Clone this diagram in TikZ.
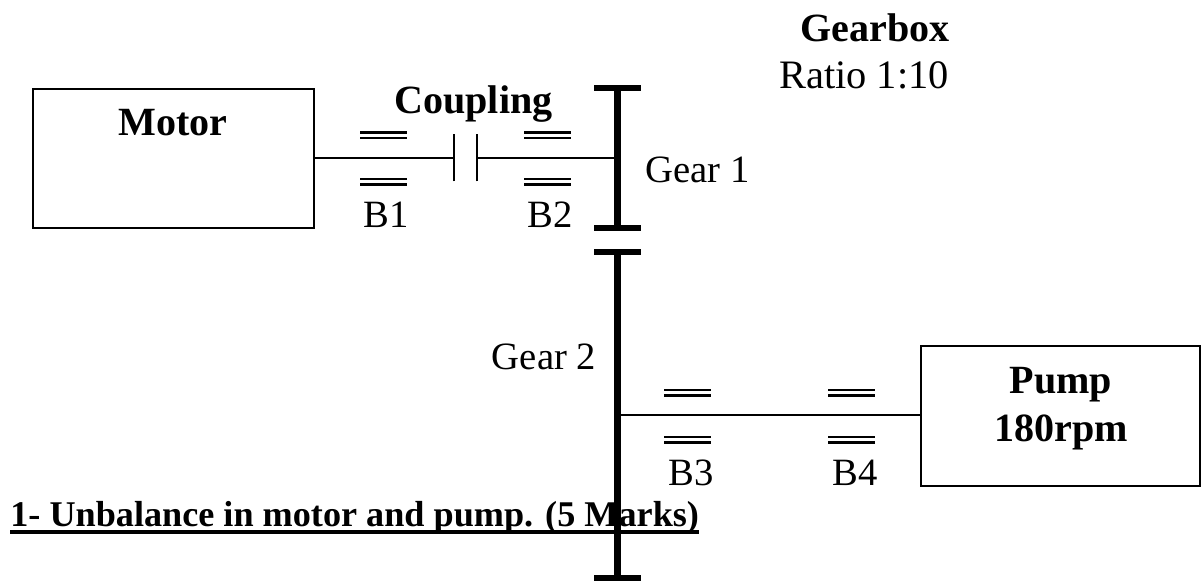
\documentclass[tikz,border=0pt]{standalone}
\usepackage{fontspec}
\setmainfont{Liberation Serif}
\tikzstyle{machine} = [draw,line width=0.8pt,inner sep=0pt]
\tikzstyle{shaft} = [draw,line width=1.2pt]
\tikzstyle{bearing} = [draw,line width=1.4pt]
\tikzstyle{gear} = [draw,line width=4.3pt]
\tikzstyle{gear cap} = [draw,line width=3.2pt]
\tikzstyle{plate} = [draw,line width=1pt]
\tikzstyle{plain label} = [font=\fontsize{22}{24}\selectfont,inner sep=0pt,anchor=base]
\tikzstyle{bold label} = [font=\fontsize{22.8}{24}\selectfont\bfseries,inner sep=0pt,anchor=base]

\begin{document}
\begin{tikzpicture}[x=0.02cm,y=-0.02cm]
     \useasboundingbox (0,0) rectangle (1201,581);
     % Underlined question goes first, the gear runs over it
     \node[font=\fontsize{20.6}{24}\selectfont\bfseries,inner sep=0pt,anchor=base west] (question) at (10,526) {1- Unbalance in motor and pump. (5 Marks)};
     \draw[line width=2.3pt] (question.base west)++(0,6) -- ++(689,0);

     % First we draw the motor and the pump
     \node[machine,minimum width=281*0.02cm,minimum height=139*0.02cm] (motor) at (173.5,158.5) {};
     \node[machine,minimum width=279*0.02cm,minimum height=140*0.02cm] (pump) at (1060.5,416) {};

     % Points on the shafts and the gears
     \foreach \pos/\name in {{(454,158)/couplingl}, {(477,158)/couplingr},
       {(617.5,158)/gearone}, {(617.5,415)/geartwo}, {(617.5,88)/gearonetop}, {(617.5,228)/gearonebot},
       {(617.5,252)/geartwotop}, {(617.5,578)/geartwobot}}
     \node[coordinate] (\name) at \pos {};

     % Connect with shafts
     \path[shaft] (couplingl -| motor.east) -- (couplingl);
     \path[shaft] (couplingr) -- (gearone);
     \path[shaft] (geartwo) -- (geartwo -| pump.west);

     % Coupling plates
     \foreach \name in {couplingl,couplingr}
     \path[plate] ([yshift=-23.5*0.02cm]\name) -- ([yshift=23.5*0.02cm]\name);

     % Bearings are two double lines
     \foreach \x/\up/\down in {383.5/132.5/179, 547.5/132.5/179, 687.5/390/437, 851.5/390/437}
     \foreach \y in {\up,\down}
     {
       \path[bearing] (\x-23.5,\y) -- (\x+23.5,\y);
       \path[bearing] (\x-23.5,\y+5.5) -- (\x+23.5,\y+5.5);
     }

     % Draw the gears
     \path[gear] (gearonetop) -- (gearonebot);
     \path[gear] (geartwotop) -- (geartwobot);
     \foreach \name in {gearonetop,gearonebot,geartwotop,geartwobot}
     \path[gear cap] ([xshift=-23.5*0.02cm]\name) -- ([xshift=23.5*0.02cm]\name);

     % Labels
     \foreach \pos/\name/\txt in {{(386.5,228)/bone/B1}, {(550.5,228)/btwo/B2}, {(691,485)/bthree/B3},
       {(855,485)/bfour/B4}, {(697.5,183)/gearonelabel/Gear 1}, {(544,369)/geartwolabel/Gear 2}}
     \node[plain label] (\name) at \pos {\txt};
     \node[plain label,font=\fontsize{23}{24}\selectfont] (ratio) at (864,89) {Ratio 1:10};

     \foreach \pos/\name/\txt in {{(875,42)/gearbox/Gearbox}, {(473.5,113)/coupling/Coupling},
       {(173,136)/motorlabel/Motor}, {(1061,393)/pumplabel/Pump}, {(1061,441)/rpm/180rpm}}
     \node[bold label] (\name) at \pos {\txt};
\end{tikzpicture}
\end{document}
